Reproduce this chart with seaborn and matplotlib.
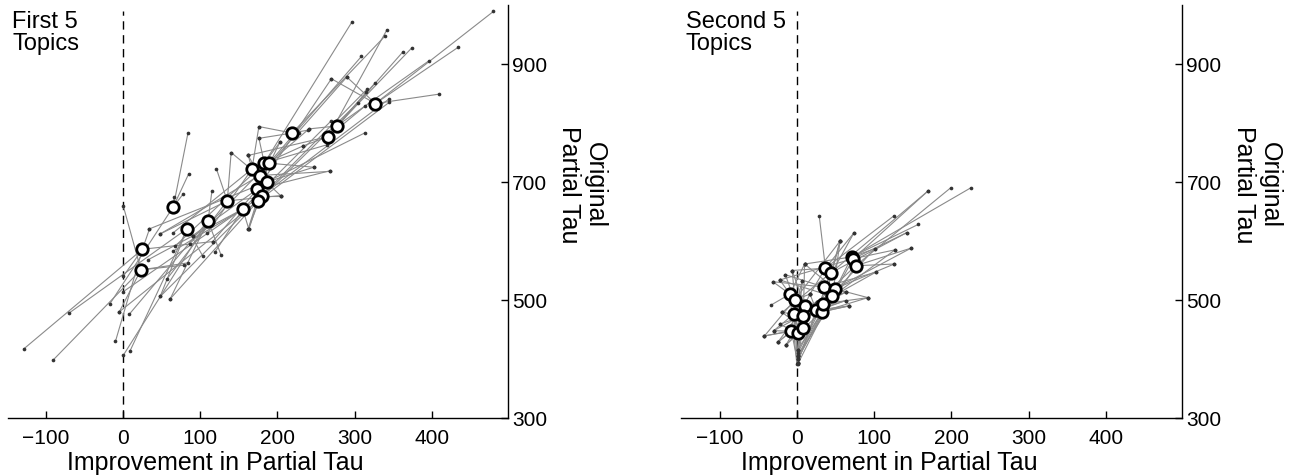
import numpy as np
import pandas as pd
import matplotlib
matplotlib.use('Agg')
import matplotlib.pyplot as plt
import seaborn as sns

# --- Data ---
# system means (white circles) and the 5 topic values per system (small dots)
first_center_x = [25, 23, 65, 83, 110, 135, 155, 167, 183, 189, 177, 186, 174, 180, 175, 219, 266, 277, 327]
first_center_y = [586, 551, 658, 621, 634, 668, 654, 722, 732, 732, 711, 700, 688, 677, 668, 783, 777, 795, 833]
first_topic_x = [
    [-129, -10, 0, 34, 116],
    [-91, -5, 0, 79, 84],
    [-17, 84, 85, 78, 66],
    [-70, 9, 48, 103, 90],
    [0, 8, 61, 115, 127],
    [57, 48, 121, 140, 204],
    [32, 65, 163, 119, 270],
    [64, 109, 162, 176, 233],
    [67, 176, 203, 264, 297],
    [86, 162, 247, 309, 241],
    [48, 162, 268, 290, 204],
    [33, 140, 162, 247, 313],
    [90, 116, 203, 268, 270],
    [0, 48, 204, 316, 345],
    [-5, 61, 163, 345, 304],
    [176, 176, 228, 240, 340],
    [162, 233, 313, 342, 363],
    [241, 326, 374, 396, 315],
    [270, 410, 434, 480, 290],
]
first_topic_y = [
    [417, 430, 540, 620, 599],
    [398, 480, 660, 559, 563],
    [494, 783, 714, 680, 675],
    [478, 414, 506, 575, 609],
    [406, 476, 502, 684, 576],
    [536, 612, 722, 750, 677],
    [568, 583, 620, 581, 804],
    [613, 613, 746, 794, 761],
    [591, 774, 767, 763, 972],
    [595, 620, 725, 913, 790],
    [612, 745, 718, 878, 677],
    [620, 750, 620, 725, 783],
    [609, 599, 767, 719, 875],
    [514, 506, 677, 857, 841],
    [480, 502, 620, 835, 834],
    [794, 774, 783, 788, 948],
    [745, 761, 828, 958, 921],
    [790, 867, 927, 905, 852],
    [875, 849, 928, 989, 878],
]

second_center_x = [-9, -3, 10, -4, 8, -7, 1, 8, 25, 32, 34, 35, 49, 46, 37, 44, 71, 73, 76]
second_center_y = [510, 500, 489, 476, 473, 447, 444, 452, 483, 480, 493, 522, 519, 506, 554, 546, 573, 570, 558]
second_topic_x = [
    [-31, -22, -34, 0, 10],
    [-15, -42, 1, 56, 17],
    [-6, -25, 1, 63, 92],
    [-19, -30, 1, 7, 26],
    [-22, -14, 1, 68, 63],
    [-43, -25, 1, -30, 17],
    [-14, 1, -22, 7, -6],
    [-42, 1, 10, 26, -19],
    [1, -25, 63, 68, 17],
    [1, -14, 92, 67, 56],
    [1, -30, 63, 101, 26],
    [-31, -15, 74, 102, 63],
    [1, 10, 126, 148, 92],
    [1, -22, 127, 102, 56],
    [29, -6, 74, 126, 17],
    [1, -19, 142, 170, 56],
    [1, 10, 157, 225, 101],
    [1, -22, 170, 142, 127],
    [1, 26, 148, 199, 126],
]
second_topic_y = [
    [531, 534, 491, 391, 561],
    [543, 439, 405, 600, 510],
    [550, 428, 416, 513, 504],
    [479, 448, 394, 533, 496],
    [459, 424, 405, 490, 499],
    [439, 428, 394, 448, 510],
    [424, 416, 459, 533, 550],
    [439, 400, 561, 496, 479],
    [394, 428, 499, 490, 510],
    [405, 424, 504, 490, 600],
    [410, 448, 513, 587, 496],
    [531, 543, 614, 547, 513],
    [400, 561, 561, 588, 504],
    [416, 534, 585, 547, 600],
    [642, 550, 614, 643, 510],
    [394, 479, 614, 685, 600],
    [391, 561, 628, 690, 587],
    [400, 534, 685, 614, 585],
    [405, 496, 588, 690, 561],
]

panel_titles = ['First 5\nTopics', 'Second 5\nTopics']
x_ticks = [-100, 0, 100, 200, 300, 400]
y_ticks = [300, 500, 700, 900]

sns.set_theme(style='white')
plt.rcParams['font.family'] = ['Liberation Sans', 'DejaVu Sans']
plt.rcParams['text.color'] = 'black'
plt.rcParams['xtick.color'] = 'black'
plt.rcParams['ytick.color'] = 'black'


def spoke_frame(cx, cy, tx, ty):
    rows = []
    for i in range(len(cx)):
        for j in range(len(tx[i])):
            seg = f'{i}_{j}'
            rows.append({'x': cx[i], 'y': cy[i], 'seg': seg})
            rows.append({'x': tx[i][j], 'y': ty[i][j], 'seg': seg})
    return pd.DataFrame(rows)


def draw_panel(ax, cx, cy, tx, ty, title):
    spokes = spoke_frame(cx, cy, tx, ty)
    sns.lineplot(data=spokes, x='x', y='y', units='seg', estimator=None, sort=False,
                 color='#8a8a8a', linewidth=0.8, legend=False, ax=ax, zorder=1)
    dots = pd.DataFrame({'x': np.concatenate(tx), 'y': np.concatenate(ty)})
    sns.scatterplot(data=dots, x='x', y='y', s=7, color='#333333', linewidth=0, ax=ax, zorder=2)
    centers = pd.DataFrame({'x': cx, 'y': cy})
    sns.scatterplot(data=centers, x='x', y='y', s=68, facecolor='white', edgecolor='black',
                    linewidth=2.0, ax=ax, zorder=3)
    ax.axvline(0, color='black', linewidth=1.0, linestyle=(0, (6, 4)), ymax=0.985, zorder=0)

    ax.set_xlim(-150, 499)
    ax.set_ylim(300, 1000)
    ax.set_xticks(x_ticks)
    ax.set_yticks(y_ticks)
    ax.yaxis.tick_right()
    for s in ['top', 'left']:
        ax.spines[s].set_visible(False)
    for s in ['bottom', 'right']:
        ax.spines[s].set_color('black')
        ax.spines[s].set_linewidth(1.0)
    ax.tick_params(axis='both', direction='in', length=5, width=1, colors='black',
                   labelcolor='black', labelsize=15, left=False, bottom=True, right=True)
    ax.tick_params(axis='x', pad=7)
    ax.tick_params(axis='y', pad=3)
    ax.set_xlabel('')
    ax.set_ylabel('')
    ax.text(0.416, -0.078, 'Improvement in Partial Tau', transform=ax.transAxes,
            ha='center', va='top', fontsize=18, color='black')
    ax.text(1.148, 0.567, 'Original\nPartial Tau', transform=ax.transAxes, rotation=-90,
            ha='center', va='center', multialignment='center', fontsize=18, linespacing=1.1,
            color='black')
    ax.text(0.009, 0.988, title, transform=ax.transAxes, ha='left', va='top',
            fontsize=17, linespacing=1.0, color='black')


fig = plt.figure(figsize=(12.94, 4.77), dpi=100)
ax1 = fig.add_axes([7.5 / 1294, 58 / 477, 500.5 / 1294, 413 / 477])
ax2 = fig.add_axes([681 / 1294, 58 / 477, 501.3 / 1294, 413 / 477])

draw_panel(ax1, first_center_x, first_center_y, first_topic_x, first_topic_y, panel_titles[0])
draw_panel(ax2, second_center_x, second_center_y, second_topic_x, second_topic_y, panel_titles[1])

fig.savefig('out.png', dpi=100)
